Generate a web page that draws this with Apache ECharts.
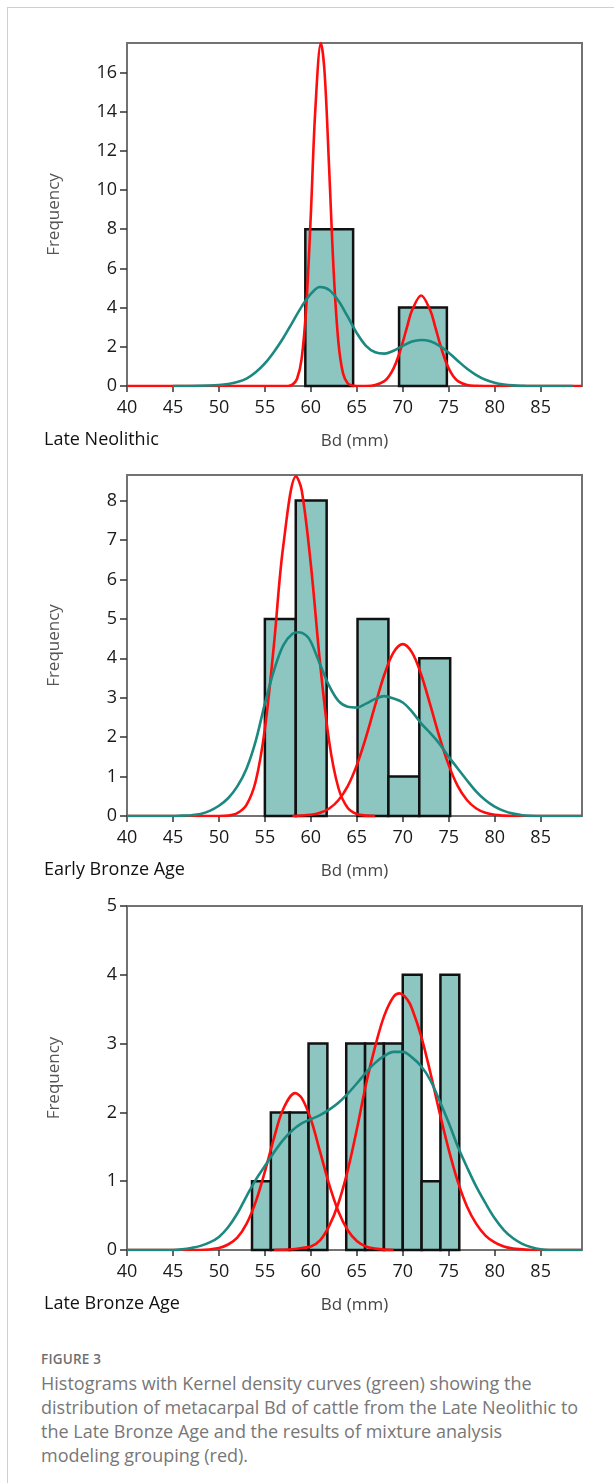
<!DOCTYPE html>
<html>
<head>
<meta charset="UTF-8">
<title>Figure 3</title>
<script src="https://cdn.jsdelivr.net/npm/echarts@6/dist/echarts.min.js"></script>
<style>
  html, body { margin: 0; padding: 0; background: #fff; }
  #page { position: relative; width: 614px; height: 1483px; overflow: hidden; }
  #frame { position: absolute; left: 7px; top: 7px; width: 620px; height: 1490px;
           border-top: 1.5px solid #cfcfcf; border-left: 1.5px solid #cfcfcf; }
  #chart { position: absolute; left: 0; top: 0; width: 614px; height: 1330px; }
  #figno { position: absolute; left: 41px; top: 1349px; font: 600 13.5px/20px "Open Sans", sans-serif;
           color: #6f6f6f; letter-spacing: 0.2px; }
  #caption { position: absolute; left: 41px; top: 1371px; font: 18px/24px "Open Sans", sans-serif;
             color: #777; white-space: nowrap; }
</style>
</head>
<body>
<div id="page">
  <div id="frame"></div>
  <div id="chart"></div>
  <div id="figno">FIGURE 3</div>
  <div id="caption">Histograms with Kernel density curves (green) showing the<br>distribution of metacarpal Bd of cattle from the Late Neolithic to<br>the Late Bronze Age and the results of mixture analysis<br>modeling grouping (red).</div>
</div>
<script>
// x axis (Bd, mm) shared by all three panels
var xTicks = [40, 45, 50, 55, 60, 65, 70, 75, 80, 85];

// panel titles
var panelNames = ['Late Neolithic', 'Early Bronze Age', 'Late Bronze Age'];

// Late Neolithic: histogram bins [from, to, count], curves as [Bd, frequency]
var neoBins = [[59.4, 64.6, 8], [69.6, 74.8, 4]];
var neoRed1 = [[40, 0], [45, 0], [50, 0], [55, 0], [57.5, 0], [58, 0.07], [58.5, 0.37], [59, 1.4],
  [59.5, 4.05], [60, 8.77], [60.5, 14.2], [61.1, 17.5], [61.5, 15.97], [62, 11.0], [62.5, 5.7],
  [63, 2.23], [63.5, 0.65], [64, 0.14], [64.5, 0.02], [65, 0], [66, 0]];
var neoRed2 = [[66, 0], [67, 0.05], [68, 0.25], [68.5, 0.5], [69, 0.9], [69.5, 1.48], [70, 2.23],
  [70.5, 3.07], [71, 3.85], [72, 4.62], [73, 3.85], [73.5, 3.07], [74, 2.23], [74.5, 1.48], [75, 0.9],
  [75.5, 0.5], [76, 0.25], [77, 0.05], [78, 0.01], [80, 0], [85, 0], [89.5, 0]];
var neoGreen = [[45, 0], [48, 0.01], [50, 0.05], [51, 0.1], [52, 0.2], [53, 0.38], [54, 0.7],
  [55, 1.15], [56, 1.75], [57, 2.45], [58, 3.25], [59, 4.05], [60, 4.7], [61, 5.05], [62, 4.9],
  [63, 4.35], [64, 3.55], [65, 2.7], [66, 2.05], [67, 1.72], [68, 1.65], [69, 1.8], [70, 2.05],
  [71, 2.27], [72, 2.35], [73, 2.28], [74, 2.05], [75, 1.7], [76, 1.28], [77, 0.88], [78, 0.56],
  [79, 0.32], [80, 0.17], [81, 0.08], [82, 0.03], [83, 0.01], [84, 0], [88.5, 0]];
var neoYTicks = [0, 2, 4, 6, 8, 10, 12, 14, 16];

// Early Bronze Age
var ebaBins = [[55.0, 58.36, 5], [58.36, 61.72, 8], [65.08, 68.44, 5], [68.44, 71.8, 1], [71.8, 75.16, 4]];
var ebaRed1 = [[40, 0], [45, 0], [50, 0], [51, 0.01], [52, 0.07], [53, 0.28], [54, 0.88], [55, 2.21],
  [56, 4.38], [57, 6.85], [58.4, 8.62], [59, 8.27], [60, 6.38], [61, 3.89], [62, 1.88], [63, 0.71],
  [64, 0.21], [65, 0.05], [66, 0.01], [67, 0]];
var ebaRed2 = [[58, 0], [60, 0.03], [61, 0.08], [62, 0.19], [63, 0.4], [64, 0.75], [65, 1.29],
  [66, 2.0], [67, 2.81], [68, 3.59], [69, 4.15], [70, 4.36], [71, 4.15], [72, 3.59], [73, 2.81],
  [74, 2.0], [75, 1.29], [76, 0.75], [77, 0.4], [78, 0.19], [79, 0.08], [80, 0.03], [81, 0.01],
  [82, 0], [89.5, 0]];
var ebaGreen = [[40, 0], [45, 0], [46, 0.01], [47, 0.02], [48, 0.05], [49, 0.13], [50, 0.26],
  [51, 0.45], [52, 0.75], [53, 1.2], [54, 1.9], [55, 2.85], [56, 3.7], [57, 4.33], [58, 4.62],
  [58.7, 4.66], [59.5, 4.58], [60, 4.42], [61, 3.85], [62, 3.3], [63, 2.92], [64, 2.77], [65, 2.75],
  [66, 2.85], [67, 2.97], [68, 3.04], [69, 2.98], [70, 2.88], [71, 2.65], [72, 2.35], [73, 2.1],
  [74, 1.83], [75, 1.5], [76, 1.2], [77, 0.9], [78, 0.62], [79, 0.4], [80, 0.24], [81, 0.13],
  [82, 0.06], [83, 0.02], [84, 0.005], [85, 0], [89.5, 0]];
var ebaYTicks = [0, 1, 2, 3, 4, 5, 6, 7, 8];

// Late Bronze Age
var lbaBins = [[53.6, 55.65, 1], [55.65, 57.7, 2], [57.7, 59.75, 2], [59.75, 61.8, 3],
  [63.85, 65.9, 3], [65.9, 67.95, 3], [67.95, 70.0, 3], [70.0, 72.05, 4], [72.05, 74.1, 1],
  [74.1, 76.15, 4]];
var lbaRed1 = [[40, 0], [45, 0], [48, 0], [50, 0.03], [51, 0.08], [52, 0.18], [53, 0.38], [54, 0.7],
  [55, 1.14], [56, 1.63], [57, 2.05], [58.3, 2.28], [59, 2.21], [60, 1.9], [61, 1.43], [62, 0.95],
  [63, 0.56], [64, 0.29], [65, 0.13], [66, 0.05], [67, 0.02], [68, 0.005], [69, 0]];
var lbaRed2 = [[56, 0], [58, 0.01], [59, 0.03], [60, 0.05], [61, 0.14], [62, 0.35], [63, 0.68],
  [64, 1.15], [65, 1.75], [66, 2.41], [67, 2.96], [68, 3.41], [69, 3.68], [69.65, 3.73],
  [70.5, 3.64], [71, 3.51], [72, 3.11], [73, 2.58], [74, 2.0], [75, 1.46], [76, 0.99], [77, 0.63],
  [78, 0.38], [79, 0.21], [80, 0.11], [81, 0.05], [82, 0.02], [83, 0.01], [84, 0], [89.5, 0]];
var lbaGreen = [[40, 0], [45, 0], [46, 0.01], [47, 0.03], [48, 0.06], [49, 0.11], [50, 0.19],
  [51, 0.33], [52, 0.53], [53, 0.78], [54, 1.02], [55, 1.22], [56, 1.42], [57, 1.6], [58, 1.74],
  [59, 1.84], [60, 1.9], [61, 1.96], [62, 2.04], [63, 2.14], [64, 2.27], [65, 2.42], [66, 2.58],
  [67, 2.72], [68, 2.82], [69, 2.88], [70, 2.88], [71, 2.8], [72, 2.67], [73, 2.47], [74, 2.17],
  [75, 1.85], [76, 1.5], [77, 1.2], [78, 0.92], [79, 0.68], [80, 0.46], [81, 0.29], [82, 0.17],
  [83, 0.09], [84, 0.04], [85, 0.01], [86, 0], [89.5, 0]];
var lbaYTicks = [0, 1, 2, 3, 4, 5];

var panels = [
  { bins: neoBins, red: [neoRed1, neoRed2], green: neoGreen, yTicks: neoYTicks, yMax: 17.5, top: 43, height: 343 },
  { bins: ebaBins, red: [ebaRed1, ebaRed2], green: ebaGreen, yTicks: ebaYTicks, yMax: 8.65, top: 475, height: 341 },
  { bins: lbaBins, red: [lbaRed1, lbaRed2], green: lbaGreen, yTicks: lbaYTicks, yMax: 5, top: 906, height: 344 }
];

var tickFont = { fontFamily: 'Open Sans', fontSize: 18, color: '#1a1a1a' };
var fillColor = '#8dc5c1';
var greenColor = '#1b8980';
var redColor = '#ff0d0d';

function renderBin(params, api) {
  var p0 = api.coord([api.value(0), api.value(2)]);
  var p1 = api.coord([api.value(1), 0]);
  return {
    type: 'rect',
    shape: { x: p0[0], y: p0[1], width: p1[0] - p0[0], height: p1[1] - p0[1] },
    style: { fill: fillColor, stroke: '#111', lineWidth: 2.5 }
  };
}

var grids = [], xAxes = [], yAxes = [], series = [], graphics = [];
panels.forEach(function (p, i) {
  grids.push({ left: 127, right: 32, top: p.top, height: p.height, show: true,
    borderColor: '#727272', borderWidth: 2, backgroundColor: 'transparent' });
  xAxes.push({
    type: 'value', gridIndex: i, min: 40, max: 89.5,
    name: 'Bd (mm)', nameLocation: 'middle', nameGap: 47,
    nameTextStyle: { fontFamily: 'Open Sans', fontSize: 17, color: '#444' },
    axisLine: { show: false },
    axisTick: { show: true, length: 6, customValues: xTicks, lineStyle: { color: '#333', width: 1.5 } },
    axisLabel: Object.assign({ customValues: xTicks, margin: 13 }, tickFont),
    splitLine: { show: false }
  });
  yAxes.push({
    type: 'value', gridIndex: i, min: 0, max: p.yMax,
    name: 'Frequency', nameLocation: 'middle', nameGap: 64, nameRotate: 90,
    nameTextStyle: { fontFamily: 'Open Sans', fontSize: 17, color: '#555' },
    axisLine: { show: false },
    axisTick: { show: true, length: 7, customValues: p.yTicks, lineStyle: { color: '#333', width: 1.5 } },
    axisLabel: Object.assign({ customValues: p.yTicks, margin: 10 }, tickFont),
    splitLine: { show: false }
  });
  series.push({
    type: 'custom', xAxisIndex: i, yAxisIndex: i, renderItem: renderBin,
    encode: { x: [0, 1], y: 2 }, data: p.bins, z: 1
  });
  p.red.forEach(function (r) {
    series.push({ type: 'line', xAxisIndex: i, yAxisIndex: i, data: r, smooth: 0.35,
      symbol: 'none', lineStyle: { color: redColor, width: 2.6 }, z: 3 });
  });
  series.push({ type: 'line', xAxisIndex: i, yAxisIndex: i, data: p.green, smooth: 0.35,
    symbol: 'none', lineStyle: { color: greenColor, width: 2.6 }, z: 4 });
  graphics.push({ type: 'text', left: 44, top: p.top + p.height + 45,
    style: { text: panelNames[i], fontFamily: 'Open Sans', fontSize: 18, fontWeight: 500, fill: '#111' } });
});

var myChart = echarts.init(document.getElementById('chart'));
myChart.setOption({
  animation: false,
  grid: grids,
  xAxis: xAxes,
  yAxis: yAxes,
  series: series,
  graphic: graphics
});
</script>
</body>
</html>
